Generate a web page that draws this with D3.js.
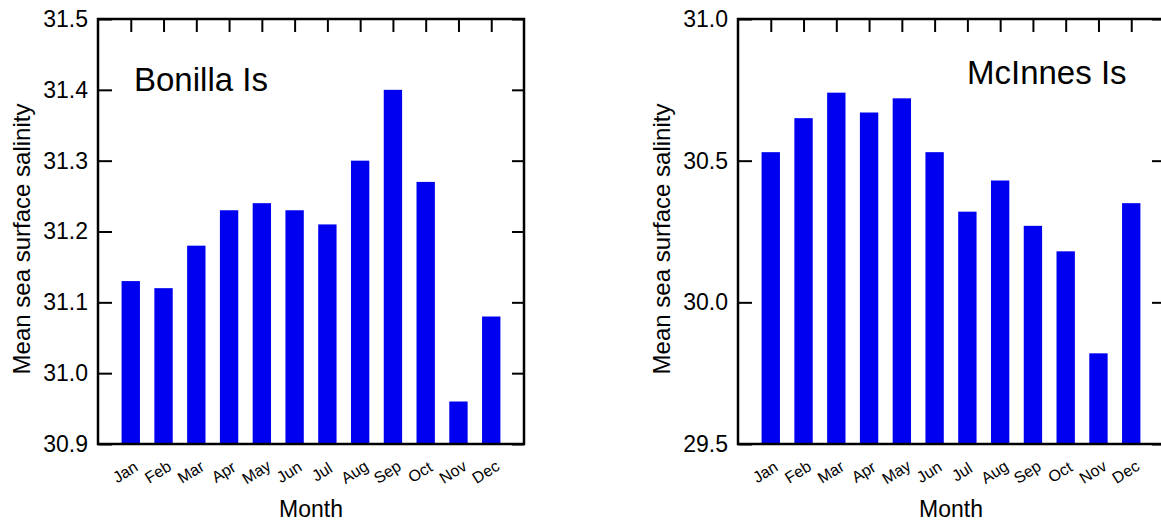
<!DOCTYPE html>
<html>
<head>
<meta charset="utf-8">
<script src="https://cdn.jsdelivr.net/npm/d3@7"></script>
<style>
  html, body { margin: 0; padding: 0; background: #fff; }
  svg { display: block; font-family: "Liberation Sans", Arial, sans-serif; }
</style>
</head>
<body>
<svg id="chart" width="1161" height="523"></svg>
<script>
const months = ["Jan","Feb","Mar","Apr","May","Jun","Jul","Aug","Sep","Oct","Nov","Dec"];
const bonillaValues = [31.13, 31.12, 31.18, 31.23, 31.24, 31.23, 31.21, 31.30, 31.40, 31.27, 30.96, 31.08];
const mcinnesValues = [30.53, 30.65, 30.74, 30.67, 30.72, 30.53, 30.32, 30.43, 30.27, 30.18, 29.82, 30.35];
const bonillaTicks = [30.9, 31.0, 31.1, 31.2, 31.3, 31.4, 31.5];
const mcinnesTicks = [29.5, 30.0, 30.5, 31.0];
const bonillaDomain = [30.9, 31.5];
const mcinnesDomain = [29.5, 31.0];
const panelTitles = ["Bonilla Is", "McInnes Is"];
const xTitle = "Month";
const yTitle = "Mean sea surface salinity";

const svg = d3.select("#chart");
const plotTop = 19, plotBottom = 444, plotW = 426;

function panel(x0, values, domain, ticks, title, titlePos) {
  const g = svg.append("g").attr("transform", `translate(${x0},0)`);
  const x = d3.scalePoint().domain(months).range([0, plotW]).padding(1);
  const y = d3.scaleLinear().domain(domain).range([plotBottom, plotTop]);
  const bw = x.step() * 0.56;

  g.selectAll("rect.bar").data(values).join("rect")
    .attr("class", "bar")
    .attr("x", (d, i) => x(months[i]) - bw / 2)
    .attr("y", d => y(d))
    .attr("width", bw)
    .attr("height", d => plotBottom - y(d))
    .attr("fill", "#0000f0");

  // left axis
  const la = g.append("g").call(d3.axisLeft(y).tickValues(ticks).tickFormat(d3.format(".1f"))
      .tickSizeInner(-14).tickSizeOuter(0).tickPadding(10));
  la.select(".domain").remove();
  la.selectAll("line").attr("stroke", "#000").attr("stroke-width", 2);
  la.selectAll("text").attr("font-size", 23).attr("fill", "#000")
    .attr("font-family", "Liberation Sans, Arial, sans-serif");

  // right axis
  const ra = g.append("g").attr("transform", `translate(${plotW},0)`)
    .call(d3.axisRight(y).tickValues(ticks).tickFormat("").tickSizeInner(-12).tickSizeOuter(0));
  ra.select(".domain").remove();
  ra.selectAll("line").attr("stroke", "#000").attr("stroke-width", 2);

  // top axis
  const ta = g.append("g").attr("transform", `translate(0,${plotTop})`)
    .call(d3.axisTop(x).tickFormat("").tickSizeInner(-13).tickSizeOuter(0));
  ta.select(".domain").remove();
  ta.selectAll("line").attr("stroke", "#000").attr("stroke-width", 2);

  // bottom axis labels (rotated)
  const ba = g.append("g").attr("transform", `translate(0,${plotBottom})`)
    .call(d3.axisBottom(x).tickSize(0).tickPadding(0));
  ba.select(".domain").remove();
  ba.selectAll("text")
    .attr("font-size", 16).attr("fill", "#000")
    .attr("font-family", "Liberation Sans, Arial, sans-serif")
    .attr("text-anchor", "middle")
    .attr("dy", null).attr("y", null)
    .attr("dominant-baseline", "central")
    .attr("transform", "translate(-6,28) rotate(-32)");

  // frame
  g.append("rect").attr("x", 0).attr("y", plotTop).attr("width", plotW).attr("height", plotBottom - plotTop)
    .attr("fill", "none").attr("stroke", "#000").attr("stroke-width", 2.5);

  // titles
  g.append("text").attr("x", titlePos[0]).attr("y", titlePos[1])
    .attr("font-size", 33).attr("fill", "#000").text(title);
  g.append("text").attr("x", plotW / 2).attr("y", 517)
    .attr("text-anchor", "middle").attr("font-size", 23).attr("fill", "#000").text(xTitle);
  g.append("text").attr("transform", `translate(-68,239) rotate(-90)`)
    .attr("text-anchor", "middle").attr("font-size", 24).attr("fill", "#000").text(yTitle);
}

panel(98, bonillaValues, bonillaDomain, bonillaTicks, panelTitles[0], [36, 91]);
panel(738, mcinnesValues, mcinnesDomain, mcinnesTicks, panelTitles[1], [229, 84]);
</script>
</body>
</html>
